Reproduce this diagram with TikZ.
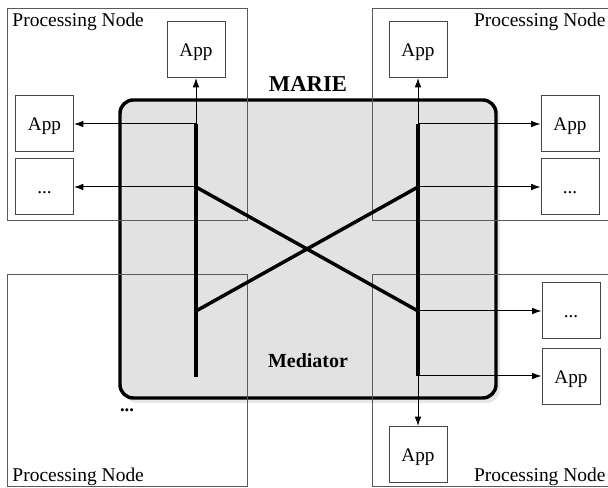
\documentclass[tikz,border=0pt]{standalone}
\usepackage{fontspec}
\setmainfont{Liberation Serif}
\usetikzlibrary{arrows.meta}

\tikzset{every picture/.style={line width=0.75pt}}

\begin{document}
\begin{tikzpicture}[x=0.75pt,y=0.75pt,yscale=-1,xscale=1,
  pnode/.style={draw={rgb, 255:red, 90; green, 90; blue, 90}, line width=0.75pt},
  pnlabel/.style={font=\fontsize{14.6}{16}\selectfont, inner sep=0pt},
  appbox/.style={draw={rgb, 255:red, 70; green, 70; blue, 70}, line width=0.75pt, fill=white,
    minimum width=43.5pt, minimum height=42pt, inner sep=0pt,
    text height=10pt, text depth=0pt, font=\fontsize{14.4}{16}\selectfont},
  busline/.style={line width=2.6pt},
  link/.style={line width=0.75pt, -{Latex[length=7pt,width=5pt]}}
]
\useasboundingbox (0,0) rectangle (608,488);

% mediator with its shadow
\draw [draw=none, fill={rgb, 255:red, 232; green, 232; blue, 232}, rounded corners=10] (124,104) rectangle (500,403);
\node [draw, line width=2.6pt, fill={rgb, 255:red, 226; green, 226; blue, 226}, rounded corners=10,
  minimum width=282pt, minimum height=223.5pt, inner sep=0pt] (med) at (308,249) {};

% processing nodes
\draw [pnode] (7,9) rectangle (247,221);
\draw [pnode] (372,9) rectangle (612,221);
\draw [pnode] (7,275) rectangle (247,487);
\draw [pnode] (372,275) rectangle (612,487);

\node [pnlabel, anchor=base west] (pnTL) at (12,27) {Processing Node};
\node [pnlabel, anchor=base east] (pnTR) at (606,27) {Processing Node};
\node [pnlabel, anchor=base west] (pnBL) at (12,482) {Processing Node};
\node [pnlabel, anchor=base east] (pnBR) at (606,482) {Processing Node};

\node [font=\fontsize{17}{20}\selectfont\bfseries, inner sep=0pt, anchor=base] (marie) at (308,92) {MARIE};
\node [font=\fontsize{15}{18}\selectfont\bfseries, inner sep=0pt, anchor=base] (medlabel) at (308,368) {Mediator};
\node [font=\fontsize{14}{16}\selectfont\bfseries, inner sep=0pt, anchor=base] (more) at (127,412) {...};

% applications
\node [appbox] (appTL) at (196,49.5) {App};
\node [appbox] (appL) at (44.5,124) {App};
\node [appbox] (dotsL) at (44.5,186.5) {...};
\node [appbox] (appTR) at (418,49.5) {App};
\node [appbox] (appR) at (570,124) {App};
\node [appbox] (dotsR) at (570,186.5) {...};
\node [appbox] (dotsBR) at (571,311) {...};
\node [appbox] (appBR) at (571,376.5) {App};
\node [appbox] (appB) at (418,454.5) {App};

% bus ends
\coordinate (lt) at (196,124);
\coordinate (l1) at (196,187);
\coordinate (l2) at (196,311);
\coordinate (lb) at (196,377);
\coordinate (rt) at (418,124);
\coordinate (r1) at (418,187);
\coordinate (r2) at (418,311);
\coordinate (rb) at (418,376);

\draw [link] (lt) -- (appTL.south);
\draw [link] (lt) -- (lt -| appL.east);
\draw [link] (l1) -- (l1 -| dotsL.east);
\draw [link] (rt) -- (appTR.south);
\draw [link] (rt) -- (rt -| appR.west);
\draw [link] (r1) -- (r1 -| dotsR.west);
\draw [link] (r2) -- (r2 -| dotsBR.west);
\draw [link] (rb) -- (rb -| appBR.west);
\draw [link] (rb) -- (appB.north);

\draw [busline] (lt) -- (lb);
\draw [busline] (rt) -- (rb);
\draw [busline] (l1) -- (r2);
\draw [busline] (l2) -- (r1);

\end{tikzpicture}
\end{document}
